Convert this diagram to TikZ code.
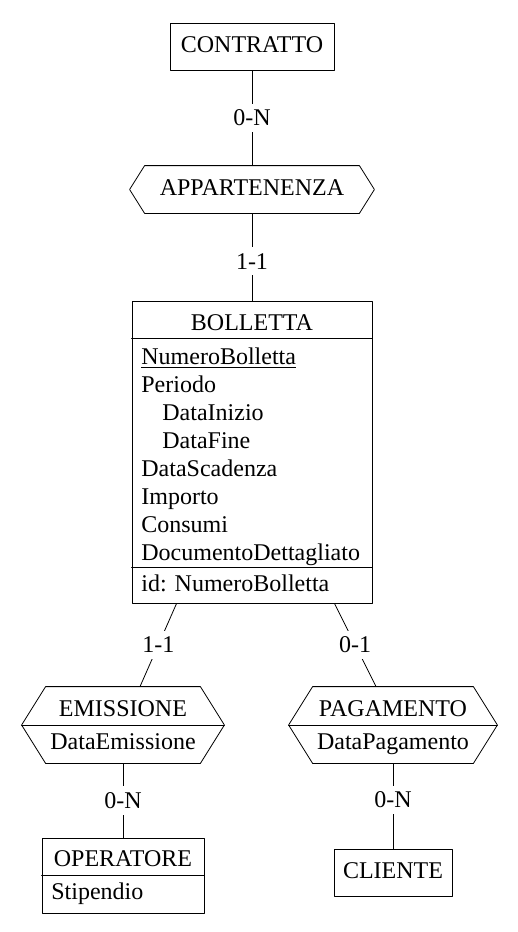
\documentclass[tikz,border=0pt]{standalone}
\usepackage{fontspec}
\setmainfont{Liberation Serif}
\usetikzlibrary{positioning}

\tikzset{
  entity/.style={draw, inner sep=0pt, text height=8.5pt, text depth=3pt},
  relation/.style={inner sep=0pt, text height=8.5pt, text depth=3pt},
  attr/.style={anchor=base west, inner sep=0pt},
  title/.style={anchor=base, inner sep=0pt},
  card/.style={fill=white, inner sep=3pt},
}

% hexagon outline round a relation node: name, corner offset
\newcommand{\relshape}[2]{%
  \draw (#1.west) -- ([xshift=#2]#1.north west) -- ([xshift=-#2]#1.north east)
    -- (#1.east) -- ([xshift=-#2]#1.south east) -- ([xshift=#2]#1.south west) -- cycle;}

\begin{document}
\begin{tikzpicture}[x=0.5pt, y=-0.5pt, line cap=round, line join=round, font=\fontsize{12}{14}\selectfont]
\useasboundingbox (0,0) rectangle (518,932);

% Entities
\node[entity, minimum width=82pt, minimum height=23.5pt] (contratto) at (252,46.5) {CONTRATTO};
\node[entity, minimum width=120pt, minimum height=151pt] (bolletta) at (252,452) {};
\node[entity, minimum width=81pt, minimum height=37.5pt] (operatore) at (123,875.5) {};
\node[entity, minimum width=59pt, minimum height=23.5pt] (cliente) at (393,872.5) {CLIENTE};

% Relationships
\node[relation, minimum width=122pt, minimum height=23.5pt] (appartenenza) at (252,189.5) {APPARTENENZA};
\node[relation, minimum width=101pt, minimum height=38pt] (emissione) at (123,725) {};
\node[relation, minimum width=104pt, minimum height=38pt] (pagamento) at (393,725) {};
\relshape{appartenenza}{7.5pt}
\relshape{emissione}{12pt}
\relshape{pagamento}{12pt}
\draw (emissione.west) -- (emissione.east);
\draw (pagamento.west) -- (pagamento.east);

% BOLLETTA compartments
\draw ([yshift=-19pt]bolletta.north west) -- ([yshift=-19pt]bolletta.north east);
\draw ([yshift=18pt]bolletta.south west) -- ([yshift=18pt]bolletta.south east);
\node[title] (bolletta-name) at (252,330.7) {BOLLETTA};
\foreach \t [count=\i] in {\underline{NumeroBolletta}, Periodo, \hspace{10.5pt}DataInizio,
    \hspace{10.5pt}DataFine, DataScadenza, Importo, Consumi, DocumentoDettagliato}
  \node[attr] (attr\i) at (141,336+28*\i) {\t};
\node[attr] (ident) at (141,591) {id: NumeroBolletta};

% OPERATORE compartments
\draw (operatore.west) -- (operatore.east);
\node[title] (operatore-name) at (123,866.7) {OPERATORE};
\node[attr] (stipendio) at (51,899) {Stipendio};

% Relationship texts
\node[title] (emissione-name) at (123,716.7) {EMISSIONE};
\node[title] (emissione-attr) at (123,749) {DataEmissione};
\node[title] (pagamento-name) at (393,716.7) {PAGAMENTO};
\node[title] (pagamento-attr) at (393,749) {DataPagamento};

% Connectors
\coordinate (bl) at ([xshift=22.5pt]bolletta.south west);
\coordinate (br) at ([xshift=-19pt]bolletta.south east);
\coordinate (el) at ([xshift=8.5pt]emissione.north);
\coordinate (pr) at ([xshift=-8.5pt]pagamento.north);
\draw (contratto) -- node[card] {0-N} (appartenenza);
\draw (appartenenza) -- node[card, pos=0.55] {1-1} (bolletta);
\draw (bl) -- node[card] {1-1} (el);
\draw (br) -- node[card] {0-1} (pr);
\draw (emissione) -- node[card] {0-N} (operatore);
\draw (pagamento) -- node[card, pos=0.43] {0-N} (cliente);

\end{tikzpicture}
\end{document}
